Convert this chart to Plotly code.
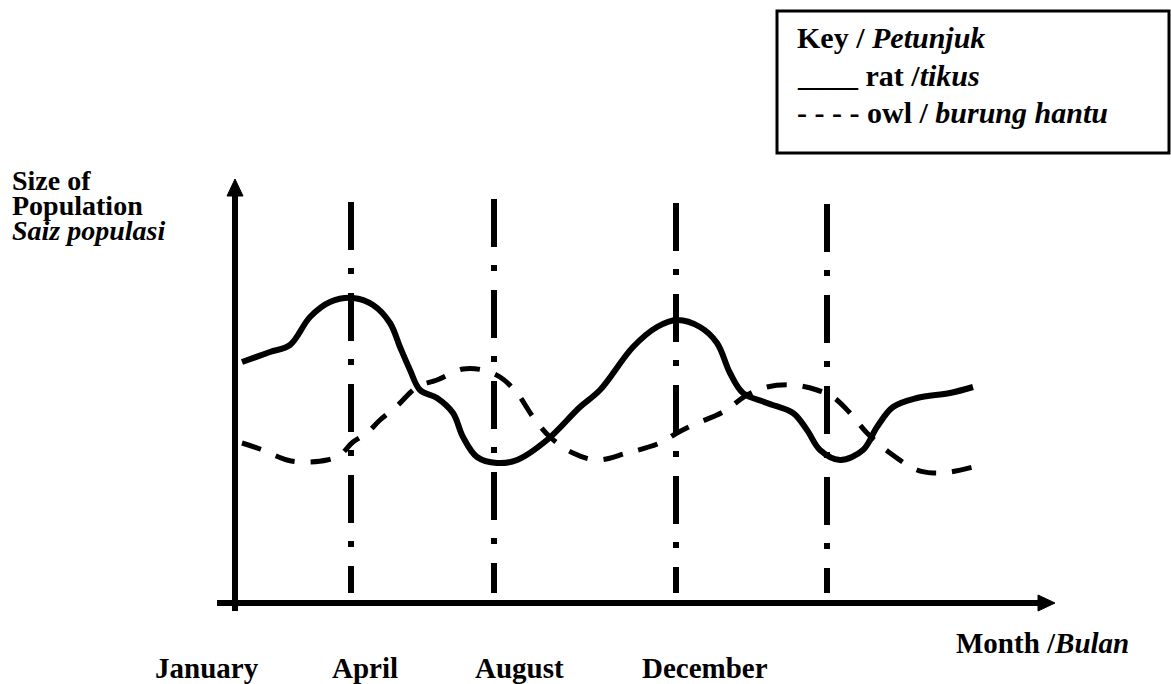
import plotly.graph_objects as go

# ---------------- data (schematic units: x = time, y = population size) ----------------
rat_x = [0.7, 3.5, 5.5, 7.5, 9.5, 11.8, 13.8, 15.5, 16.5, 17.5, 18.5, 20.2, 21.8, 22.8, 24.2,
         26.2, 28.2, 31.2, 34.5, 36.5, 39.8, 42.2, 44.2, 46.5, 48.2, 49.5, 50.8, 53.2, 55.8,
         57.2, 58.5, 60.5, 62.8, 64.2, 65.8, 68.2, 71.5, 73.8]
rat_y = [24.1, 25.1, 25.8, 28.6, 30.1, 30.5, 29.8, 28.0, 25.6, 23.3, 21.3, 20.5, 19.0, 16.6, 14.6,
         14.0, 14.3, 16.3, 19.6, 21.3, 25.6, 27.6, 28.3, 27.6, 26.0, 23.0, 21.0, 20.0, 19.0,
         17.3, 15.3, 14.3, 15.3, 17.6, 19.6, 20.5, 21.0, 21.6]

owl_x = [0.7, 2.5, 5.2, 6.5, 9.2, 10.5, 11.8, 13.2, 14.5, 16.2, 18.2, 20.2, 22.8, 24.8, 26.5,
         28.2, 29.8, 31.5, 33.8, 36.2, 39.2, 42.5, 44.2, 45.8, 48.8, 51.2, 53.2, 55.8, 58.2,
         59.8, 61.5, 63.2, 65.5, 68.2, 69.8, 71.5, 73.8]
owl_y = [16.0, 15.4, 14.3, 14.1, 14.3, 14.8, 16.1, 17.0, 18.3, 19.7, 21.6, 22.3, 23.4, 23.3, 22.6,
         21.0, 18.6, 16.6, 15.0, 14.3, 15.0, 16.0, 17.0, 17.8, 19.1, 20.8, 21.6, 21.8, 21.3,
         20.6, 19.0, 17.0, 15.0, 13.3, 13.0, 13.1, 13.6]

marker_x = [11.6, 25.9, 44.1, 59.2]          # vertical dash-dot reference lines
marker_top = [40.1, 40.4, 40.0, 39.9]

month_labels = ["January", "April", "August", "December"]
month_label_px = [207, 365, 519, 705]        # label centres (pixels)

# ---------------- layout helpers ----------------
W, H = 1171, 684
X0_PX, Y0_PX, SCALE = 235, 603, 10.0         # origin pixel and px per unit
xr = [(0 - X0_PX) / SCALE, (W - X0_PX) / SCALE]
yr = [(Y0_PX - H) / SCALE, (Y0_PX - 0) / SCALE]

def px(x):
    return x / W

def py(y):
    return 1 - y / H

FONT = "Liberation Serif, Times New Roman, serif"
BLACK = "#000000"

fig = go.Figure()

# vertical dash-dot lines
for xv, top in zip(marker_x, marker_top):
    fig.add_trace(go.Scatter(x=[xv, xv], y=[top, 1.0], mode="lines",
                             line=dict(color=BLACK, width=6, dash="48px,18px,6px,19px"),
                             hoverinfo="skip"))

# owl (dashed)
fig.add_trace(go.Scatter(x=owl_x, y=owl_y, mode="lines",
                         line=dict(color=BLACK, width=5, dash="20px,16px", shape="spline", smoothing=1.0),
                         name="owl"))
# rat (solid)
fig.add_trace(go.Scatter(x=rat_x, y=rat_y, mode="lines",
                         line=dict(color=BLACK, width=6, shape="spline", smoothing=1.0),
                         name="rat"))

# axes with arrows
Y_AX_BOTTOM, Y_AX_END, Y_TIP = -0.8, 40.9, 42.4
X_AX_LEFT, X_AX_END, X_TIP = -1.8, 80.5, 82.0
HW = 0.8
fig.add_trace(go.Scatter(x=[0, 0], y=[Y_AX_BOTTOM, Y_AX_END], mode="lines",
                         line=dict(color=BLACK, width=6), hoverinfo="skip"))
fig.add_trace(go.Scatter(x=[X_AX_LEFT, X_AX_END], y=[0, 0], mode="lines",
                         line=dict(color=BLACK, width=6), hoverinfo="skip"))
fig.add_trace(go.Scatter(x=[-HW, HW, 0, -HW], y=[Y_AX_END - 0.2, Y_AX_END - 0.2, Y_TIP, Y_AX_END - 0.2],
                         mode="lines", fill="toself", fillcolor=BLACK,
                         line=dict(color=BLACK, width=1), hoverinfo="skip"))
fig.add_trace(go.Scatter(x=[X_AX_END - 0.2, X_AX_END - 0.2, X_TIP, X_AX_END - 0.2], y=[-HW, HW, 0, -HW],
                         mode="lines", fill="toself", fillcolor=BLACK,
                         line=dict(color=BLACK, width=1), hoverinfo="skip"))

annotations = []

def text(x_px, base_px, s, size, anchor="left"):
    annotations.append(dict(x=px(x_px), y=py(base_px - 0.33 * size), xref="paper", yref="paper",
                            text=s, showarrow=False, xanchor=anchor, yanchor="middle",
                            borderpad=0,
                            font=dict(family=FONT, size=size, color=BLACK)))

# month labels
for lab, cx in zip(month_labels, month_label_px):
    text(cx, 678, f"<b>{lab}</b>", 29, anchor="center")

# x axis title
text(955, 653, "<b>Month /</b><b><i>Bulan</i></b>", 29)

# y axis title
text(11, 190, "<b>Size of</b>", 28)
text(11, 215, "<b>Population</b>", 28)
text(11, 240, "<b><i>Saiz populasi</i></b>", 28)

# key box
text(796, 47, "<b>Key / </b><b><i>Petunjuk</i></b>", 30)
text(796, 85, "<b>____ rat /</b><b><i>tikus</i></b>", 30)
text(796, 122, "<b>- - - - owl / </b><b><i>burung hantu</i></b>", 30)

shapes = [dict(type="rect", xref="paper", yref="paper",
               x0=px(777), x1=px(1169), y0=py(153), y1=py(11),
               line=dict(color=BLACK, width=3), fillcolor="rgba(0,0,0,0)")]

fig.update_layout(
    width=W, height=H,
    margin=dict(l=0, r=0, t=0, b=0),
    paper_bgcolor="white", plot_bgcolor="white",
    showlegend=False,
    xaxis=dict(range=xr, visible=False, fixedrange=True),
    yaxis=dict(range=yr, visible=False, fixedrange=True),
    annotations=annotations,
    shapes=shapes,
)

fig.write_html("out.html",
               config={"displayModeBar": False, "staticPlot": True},
               post_script="document.body.style.margin='0';document.body.style.padding='0';")
